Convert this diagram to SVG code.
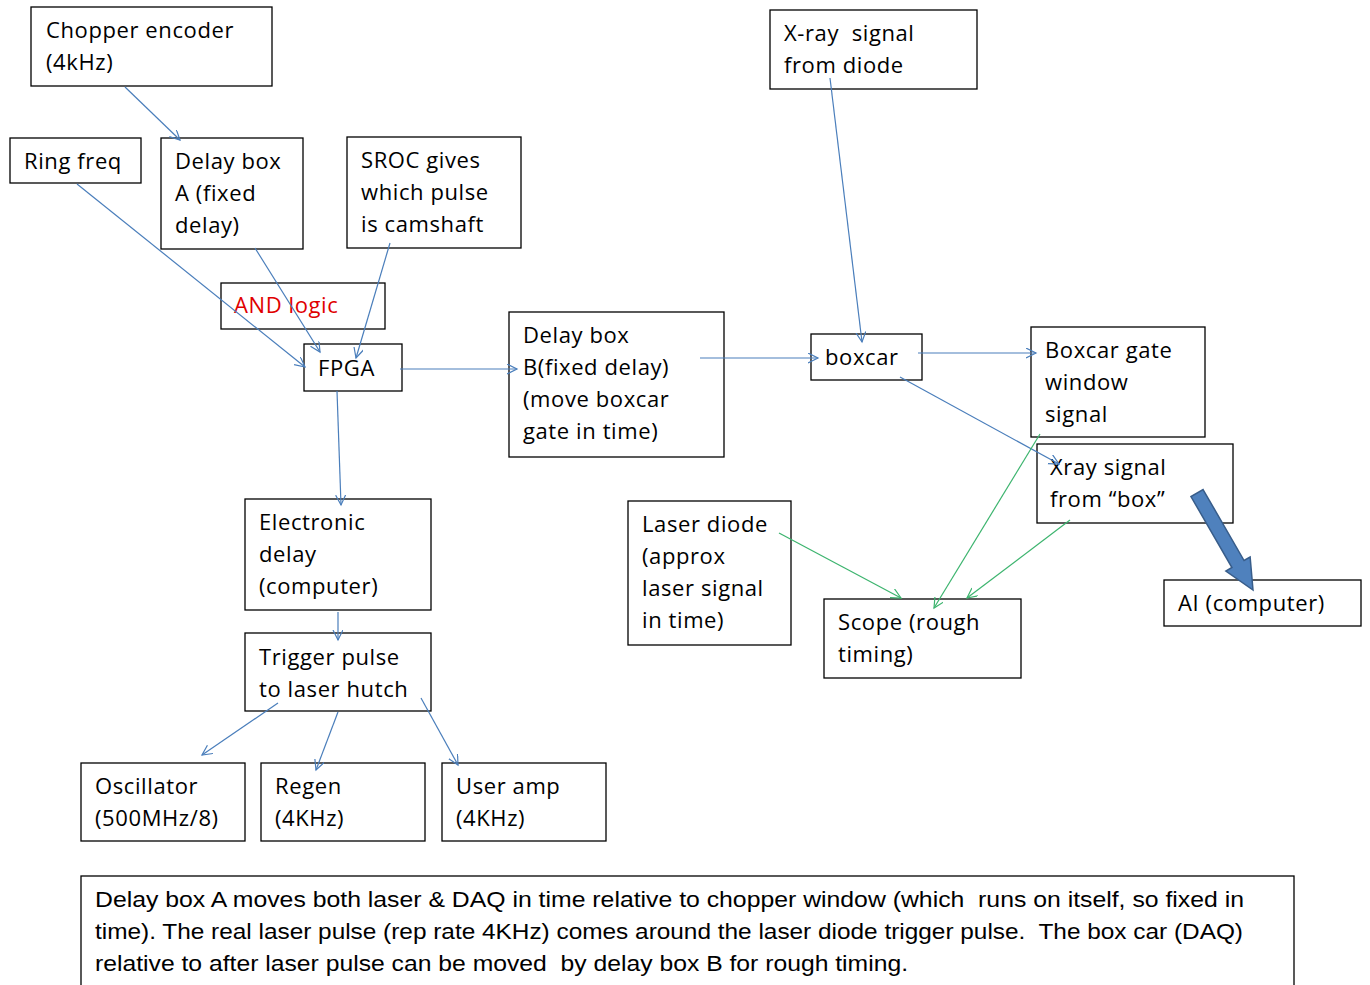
<svg xmlns="http://www.w3.org/2000/svg" width="1370" height="985" viewBox="0 0 1370 985">
<style>
.box{fill:#fff;stroke:#000;stroke-width:1.3}
.t{font-family:"Open Sans","Noto Sans",sans-serif;font-size:22px;letter-spacing:0.6px;fill:#000}
.red{fill:#e00000}
.note{font-family:"Liberation Sans Narrow","Liberation Sans",sans-serif;font-size:22px;fill:#000}
.b{stroke:#4a7ebb;stroke-width:1.2;fill:none;marker-end:url(#ab)}
.g{stroke:#3cb46e;stroke-width:1.2;fill:none;marker-end:url(#ag)}
</style>
<defs>
<marker id="ab" markerWidth="12" markerHeight="12" refX="10" refY="5" orient="auto" markerUnits="userSpaceOnUse"><path d="M0,0 L10,5 L0,10" fill="none" stroke="#4a7ebb" stroke-width="1.2"/></marker>
<marker id="ag" markerWidth="12" markerHeight="12" refX="10" refY="5" orient="auto" markerUnits="userSpaceOnUse"><path d="M0,0 L10,5 L0,10" fill="none" stroke="#3cb46e" stroke-width="1.2"/></marker>
</defs>
<rect width="1370" height="985" fill="#fff"/>
<g id="chopper"><rect class="box" x="31" y="7" width="241" height="79"/><text class="t" x="46" y="38">Chopper encoder</text><text class="t" x="46" y="70">(4kHz)</text></g>
<g id="ringfreq"><rect class="box" x="10" y="138" width="131" height="45"/><text class="t" x="24" y="169">Ring freq</text></g>
<g id="delayA"><rect class="box" x="161" y="138" width="142" height="111"/><text class="t" x="175" y="169">Delay box</text><text class="t" x="175" y="201">A (fixed</text><text class="t" x="175" y="233">delay)</text></g>
<g id="sroc"><rect class="box" x="347" y="137" width="174" height="111"/><text class="t" x="361" y="168">SROC gives</text><text class="t" x="361" y="200">which pulse</text><text class="t" x="361" y="232">is camshaft</text></g>
<g id="andlogic"><rect class="box" x="221" y="283" width="164" height="46"/><text class="t red" x="234" y="313">AND logic</text></g>
<g id="fpga"><rect class="box" x="304" y="344" width="98" height="47"/><text class="t" x="318" y="376">FPGA</text></g>
<g id="delayB"><rect class="box" x="509" y="312" width="215" height="145"/><text class="t" x="523" y="343">Delay box</text><text class="t" x="523" y="375">B(fixed delay)</text><text class="t" x="523" y="407">(move boxcar</text><text class="t" x="523" y="439">gate in time)</text></g>
<g id="xraydiode"><rect class="box" x="770" y="10" width="207" height="79"/><text class="t" x="784" y="41" xml:space="preserve">X-ray  signal</text><text class="t" x="784" y="73">from diode</text></g>
<g id="boxcar"><rect class="box" x="811" y="334" width="111" height="46"/><text class="t" x="825" y="365">boxcar</text></g>
<g id="gatewindow"><rect class="box" x="1031" y="327" width="174" height="110"/><text class="t" x="1045" y="358">Boxcar gate</text><text class="t" x="1045" y="390">window</text><text class="t" x="1045" y="422">signal</text></g>
<g id="xraybox"><rect class="box" x="1037" y="444" width="196" height="79"/><text class="t" x="1050" y="475">Xray signal</text><text class="t" x="1050" y="507">from “box”</text></g>
<g id="laserdiode"><rect class="box" x="628" y="501" width="163" height="144"/><text class="t" x="642" y="532">Laser diode</text><text class="t" x="642" y="564">(approx</text><text class="t" x="642" y="596">laser signal</text><text class="t" x="642" y="628">in time)</text></g>
<g id="scope"><rect class="box" x="824" y="599" width="197" height="79"/><text class="t" x="838" y="630">Scope (rough</text><text class="t" x="838" y="662">timing)</text></g>
<g id="ai"><rect class="box" x="1164" y="580" width="197" height="46"/><text class="t" x="1178" y="611">AI (computer)</text></g>
<g id="electronic"><rect class="box" x="245" y="499" width="186" height="111"/><text class="t" x="259" y="530">Electronic</text><text class="t" x="259" y="562">delay</text><text class="t" x="259" y="594">(computer)</text></g>
<g id="trigger"><rect class="box" x="245" y="633" width="186" height="78"/><text class="t" x="259" y="665">Trigger pulse</text><text class="t" x="259" y="697">to laser hutch</text></g>
<g id="oscillator"><rect class="box" x="81" y="763" width="164" height="78"/><text class="t" x="95" y="794">Oscillator</text><text class="t" x="95" y="826">(500MHz/8)</text></g>
<g id="regen"><rect class="box" x="261" y="763" width="164" height="78"/><text class="t" x="275" y="794">Regen</text><text class="t" x="275" y="826">(4KHz)</text></g>
<g id="useramp"><rect class="box" x="442" y="763" width="164" height="78"/><text class="t" x="456" y="794">User amp</text><text class="t" x="456" y="826">(4KHz)</text></g>
<g id="note"><rect class="box" x="81" y="876" width="1213" height="130"/>
<text class="note" x="95" y="907" textLength="1149" lengthAdjust="spacingAndGlyphs" xml:space="preserve">Delay box A moves both laser &amp; DAQ in time relative to chopper window (which  runs on itself, so fixed in</text>
<text class="note" x="95" y="939" textLength="1148" lengthAdjust="spacingAndGlyphs" xml:space="preserve">time). The real laser pulse (rep rate 4KHz) comes around the laser diode trigger pulse.  The box car (DAQ)</text>
<text class="note" x="95" y="971" textLength="813" lengthAdjust="spacingAndGlyphs" xml:space="preserve">relative to after laser pulse can be moved  by delay box B for rough timing.</text>
</g>
<g id="connectors">
<line class="b" x1="125" y1="87" x2="180" y2="140"/>
<line class="b" x1="77" y1="184" x2="305" y2="367"/>
<line class="b" x1="255" y1="248" x2="320" y2="352"/>
<line class="b" x1="390" y1="243" x2="356" y2="358"/>
<line class="b" x1="400" y1="369" x2="517" y2="369"/>
<line class="b" x1="337" y1="391" x2="341" y2="505"/>
<line class="b" x1="700" y1="358" x2="818" y2="358"/>
<line class="b" x1="830" y1="78" x2="862" y2="342"/>
<line class="b" x1="918" y1="353" x2="1036" y2="353"/>
<line class="b" x1="900" y1="377" x2="1059" y2="464"/>
<line class="b" x1="338" y1="612" x2="338" y2="640"/>
<line class="b" x1="278" y1="703" x2="202" y2="755"/>
<line class="b" x1="338" y1="712" x2="316" y2="770"/>
<line class="b" x1="421" y1="698" x2="458" y2="765"/>
<line class="g" x1="779" y1="533" x2="901" y2="598"/>
<line class="g" x1="1040" y1="434" x2="934" y2="608"/>
<line class="g" x1="1070" y1="520" x2="967" y2="598"/>
<polygon transform="translate(1197,493) rotate(60)" points="0,-7 82,-7 82,-14 112,0 82,14 82,7 0,7" fill="#4f81bd" stroke="#385d8a" stroke-width="1.5"/>
</g>
</svg>
